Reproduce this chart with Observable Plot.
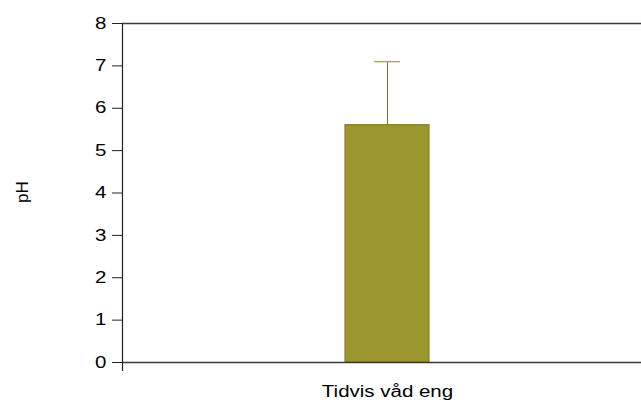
<!DOCTYPE html>
<html>
<head>
<meta charset="utf-8">
<script src="https://cdn.jsdelivr.net/npm/d3@7"></script>
<script src="https://cdn.jsdelivr.net/npm/@observablehq/plot@0.6"></script>
<style>
  html, body { margin: 0; padding: 0; background: #fff; }
  #chart { width: 641px; height: 407px; }
</style>
</head>
<body>
<div id="chart"></div>
<script>
// Mean soil pH per habitat type, with the upper error bar
const categories = ["Tidvis våd eng"];
const means = [5.6];
const upper = [7.1];
const yTicks = [0, 1, 2, 3, 4, 5, 6, 7, 8];
const yLabel = "pH";

const data = categories.map((c, i) => ({ category: c, mean: means[i], upper: upper[i] }));

const font = "'Liberation Sans', Arial, sans-serif";

const chart = Plot.plot({
  width: 641,
  height: 407,
  marginTop: 23,
  marginBottom: 37,
  marginLeft: 122,
  marginRight: 0,
  style: { fontFamily: font, fontSize: "16px", color: "#000", background: "#fff" },
  x: { domain: categories, range: [122, 652], padding: 0.7264 },
  y: { domain: [0, 8], range: [362, 23] },
  marks: [
    Plot.barY(data, { x: "category", y: "mean", fill: "#9c962e", stroke: "#86801f", strokeWidth: 1.2 }),
    Plot.ruleX(data, { x: "category", y1: "mean", y2: "upper", stroke: "#7a7520", strokeWidth: 1 }),
    Plot.tickY(data, { x: "category", y: "upper", stroke: "#b0aa5a", strokeWidth: 1.5, insetLeft: 29, insetRight: 29 }),
    Plot.ruleY([0, 8], { stroke: "#3a3a3a", strokeWidth: 1.4 }),
    Plot.frame({ anchor: "left", stroke: "#222", strokeWidth: 1.2 }),
    Plot.axisY({
      ticks: yTicks, tickSize: 10, tickPadding: 6, tickFormat: d => String(d),
      stroke: "#222", fontSize: 16, label: null
    }),
    Plot.axisX({ tickSize: 0, tickPadding: 15, fontSize: 16, label: null }),
    Plot.text([yLabel], {
      text: d => d, frameAnchor: "left", dx: -100, dy: 6,
      rotate: -90, fontSize: 17, fill: "#000"
    })
  ]
});

document.getElementById("chart").appendChild(chart);

// Tick labels are set slightly wide, like the rest of this figure's type
d3.select(chart)
  .selectAll("g[aria-label='y-axis tick label'] text, g[aria-label='x-axis tick label'] text")
  .each(function () {
    const w = this.getComputedTextLength();
    this.setAttribute("textLength", (w * 1.28).toFixed(1));
    this.setAttribute("lengthAdjust", "spacingAndGlyphs");
  });
</script>
</body>
</html>
